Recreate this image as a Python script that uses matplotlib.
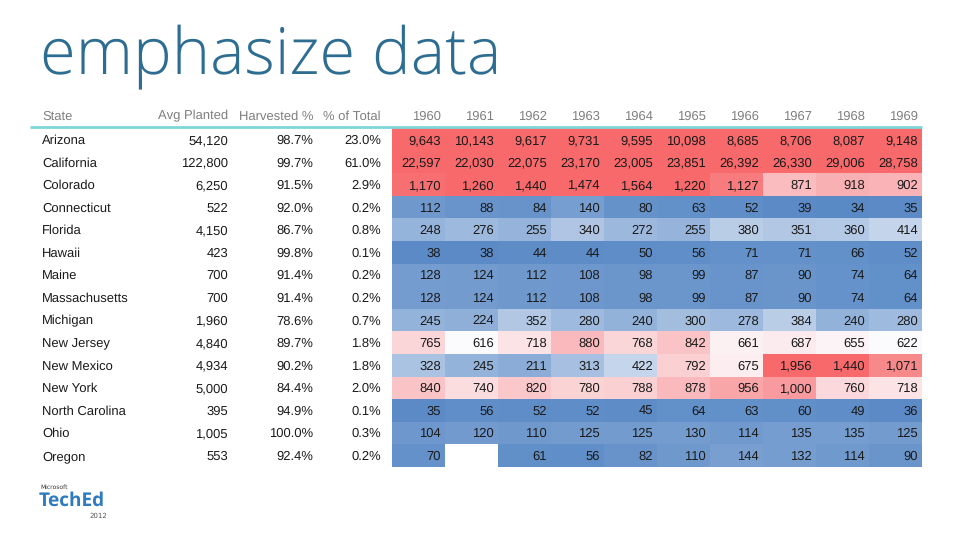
import numpy as np
import matplotlib
matplotlib.use("Agg")
import matplotlib.pyplot as plt
from matplotlib.colors import LinearSegmentedColormap, TwoSlopeNorm

plt.rcParams["text.hinting"] = "no_hinting"
plt.rcParams["text.hinting_factor"] = 1

states = ["Arizona", "California", "Colorado", "Connecticut", "Florida", "Hawaii",
          "Maine", "Massachusetts", "Michigan", "New Jersey", "New Mexico",
          "New York", "North Carolina", "Ohio", "Oregon"]
avg_planted = [54120, 122800, 6250, 522, 4150, 423, 700, 700, 1960, 4840, 4934,
               5000, 395, 1005, 553]
harvested_pct = [98.7, 99.7, 91.5, 92.0, 86.7, 99.8, 91.4, 91.4, 78.6, 89.7, 90.2,
                 84.4, 94.9, 100.0, 92.4]
pct_of_total = [23.0, 61.0, 2.9, 0.2, 0.8, 0.1, 0.2, 0.2, 0.7, 1.8, 1.8, 2.0, 0.1,
                0.3, 0.2]
years = ["1960", "1961", "1962", "1963", "1964", "1965", "1966", "1967", "1968", "1969"]
y_arizona = [9643, 10143, 9617, 9731, 9595, 10098, 8685, 8706, 8087, 9148]
y_california = [22597, 22030, 22075, 23170, 23005, 23851, 26392, 26330, 29006, 28758]
y_colorado = [1170, 1260, 1440, 1474, 1564, 1220, 1127, 871, 918, 902]
y_connecticut = [112, 88, 84, 140, 80, 63, 52, 39, 34, 35]
y_florida = [248, 276, 255, 340, 272, 255, 380, 351, 360, 414]
y_hawaii = [38, 38, 44, 44, 50, 56, 71, 71, 66, 52]
y_maine = [128, 124, 112, 108, 98, 99, 87, 90, 74, 64]
y_massachusetts = [128, 124, 112, 108, 98, 99, 87, 90, 74, 64]
y_michigan = [245, 224, 352, 280, 240, 300, 278, 384, 240, 280]
y_new_jersey = [765, 616, 718, 880, 768, 842, 661, 687, 655, 622]
y_new_mexico = [328, 245, 211, 313, 422, 792, 675, 1956, 1440, 1071]
y_new_york = [840, 740, 820, 780, 788, 878, 956, 1000, 760, 718]
y_north_carolina = [35, 56, 52, 52, 45, 64, 63, 60, 49, 36]
y_ohio = [104, 120, 110, 125, 125, 130, 114, 135, 135, 125]
y_oregon = [70, np.nan, 61, 56, 82, 110, 144, 132, 114, 90]

yearly = np.array([y_arizona, y_california, y_colorado, y_connecticut, y_florida,
                   y_hawaii, y_maine, y_massachusetts, y_michigan, y_new_jersey,
                   y_new_mexico, y_new_york, y_north_carolina, y_ohio, y_oregon],
                  dtype=float)

W, H = 960, 540
fig = plt.figure(figsize=(9.6, 5.4), dpi=100)
ax = fig.add_axes([0, 0, 1, 1])
ax.set_xlim(0, W)
ax.set_ylim(H, 0)
ax.axis("off")

# Title
fig.text(40 / W, 1 - 58 / H, "emphasize data", fontsize=47, color="#2E6D92",
         family="Open Sans", fontweight="light", va="center", ha="left")

# layout
row_top = 128.0
row_h = 22.57
n = len(states)
hm_left, hm_right = 392.0, 922.0
col_w = (hm_right - hm_left) / len(years)

cmap = LinearSegmentedColormap.from_list("excel3", ["#5A8AC6", "#FCFCFF", "#F8696B"])
norm = TwoSlopeNorm(vmin=30, vcenter=620, vmax=1200)
data = np.ma.masked_invalid(yearly)
cm = cmap.with_extremes(bad="white")
ax.imshow(data, cmap=cm, norm=norm, aspect="auto", interpolation="nearest",
          extent=[hm_left, hm_right, row_top + n * row_h, row_top], zorder=1)

font = "Liberation Sans"
fs = 9.3
hdr_y = 119.5
hdr_col = "#7F7F7F"
kw_h = dict(va="baseline", fontsize=fs, color=hdr_col, family=font)
ax.text(42, hdr_y, "State", ha="left", **kw_h)
ax.text(228, hdr_y, "Avg Planted", ha="right", **kw_h)
ax.text(313, hdr_y, "Harvested %", ha="right", **kw_h)
ax.text(381, hdr_y, "% of Total", ha="right", **kw_h)
for j, yr in enumerate(years):
    ax.text(hm_left + (j + 1) * col_w - 4, hdr_y, yr, ha="right", **kw_h)

# header rule
ax.plot([30, hm_right], [127, 127], color="#7FD6DA", lw=2.0, zorder=3,
        solid_capstyle="butt")

txt_col = "#1A1A1A"
kw = dict(va="baseline", fontsize=fs, color=txt_col, family=font, zorder=4)
for i, st in enumerate(states):
    yb = row_top + (i + 0.5) * row_h + 4.6
    ax.text(42, yb, st, ha="left", **kw)
    ax.text(228, yb, f"{avg_planted[i]:,}", ha="right", **kw)
    ax.text(313, yb, f"{harvested_pct[i]:.1f}%", ha="right", **kw)
    ax.text(381, yb, f"{pct_of_total[i]:.1f}%", ha="right", **kw)
    for j in range(len(years)):
        v = yearly[i, j]
        if np.isnan(v):
            continue
        ax.text(hm_left + (j + 1) * col_w - 4, yb, f"{int(v):,}", ha="right", **kw)

# Logo
ax.text(40, 487, "Microsoft", ha="left", va="center", fontsize=4.5, color="#333333",
        family="DejaVu Sans")
ax.text(39, 501, "TechEd", ha="left", va="center", fontsize=14, color="#2F7BBF",
        family="Open Sans", fontweight="bold")
ax.text(107, 516, "2012", ha="right", va="center", fontsize=5, color="#555555",
        family="DejaVu Sans")

fig.savefig("out.png", dpi=100, facecolor="white")
